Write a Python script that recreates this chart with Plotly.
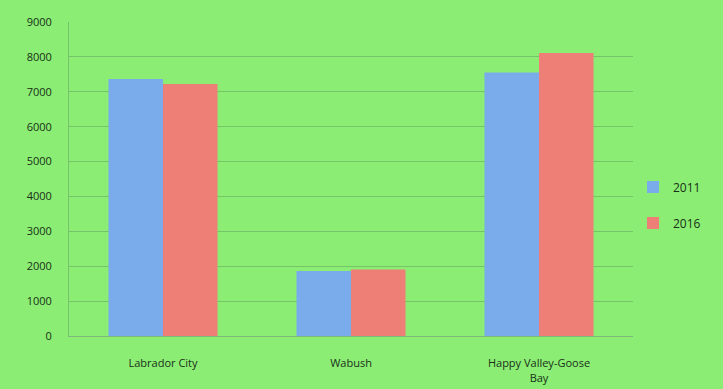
import plotly.graph_objects as go

categories = ["Labrador City", "Wabush", "Happy Valley-Goose<br>Bay"]
years = ["2011", "2016"]
values_2011 = [7367, 1861, 7552]
values_2016 = [7220, 1906, 8109]
y_ticks = [0, 1000, 2000, 3000, 4000, 5000, 6000, 7000, 8000, 9000]

bg = "#8ced74"
fig = go.Figure()
fig.add_trace(go.Bar(name=years[0], x=categories, y=values_2011,
                     marker=dict(color="#7aaceb", line=dict(width=0)),
                     legendgroup="a"))
fig.add_trace(go.Bar(name=years[1], x=categories, y=values_2016,
                     marker=dict(color="#ee7f76", line=dict(width=0)),
                     legendgroup="b"))

fig.update_layout(
    width=723, height=389,
    paper_bgcolor=bg, plot_bgcolor=bg,
    margin=dict(l=69, r=90, t=22, b=53),
    barmode="group", bargap=0.42, bargroupgap=0,
    font=dict(family="Open Sans", size=11, color="#173017"),
    showlegend=True,
    legend=dict(x=1.0, xanchor="left", y=0.417, yanchor="middle",
                bgcolor="rgba(0,0,0,0)", tracegroupgap=17,
                font=dict(size=12, color="#173017"), itemwidth=30),
    xaxis=dict(showgrid=False, showline=True, linecolor="#7fb87a", linewidth=1,
               ticks="", tickfont=dict(size=11), automargin=False,
               ticklabelstandoff=17),
    yaxis=dict(range=[0, 9000], tickvals=y_ticks, showgrid=True,
               gridcolor="#76c46a", gridwidth=1, zeroline=False,
               showline=True, linecolor="#76c46a", linewidth=1,
               ticks="outside", ticklen=5, tickcolor="rgba(0,0,0,0)",
               ticklabelstandoff=9,
               tickfont=dict(size=11), automargin=False),
)
fig.write_html("out.html", config={"displayModeBar": False},
               post_script="document.body.style.margin='0';document.body.style.overflow='hidden';")
